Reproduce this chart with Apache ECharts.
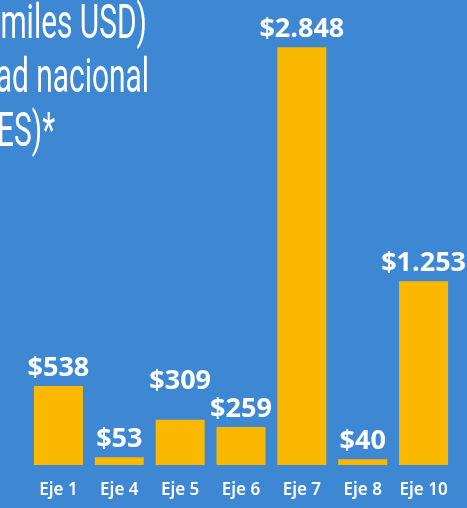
<!DOCTYPE html>
<html>
<head>
<meta charset="utf-8">
<script src="https://cdn.jsdelivr.net/npm/echarts@6/dist/echarts.min.js"></script>
<style>
  html, body { margin: 0; padding: 0; background: #3d87d3; }
  #chart { width: 467px; height: 508px; }
</style>
</head>
<body>
<div id="chart"></div>
<script>
// Inversión por eje (miles USD)
var categories = ['Eje 1', 'Eje 4', 'Eje 5', 'Eje 6', 'Eje 7', 'Eje 8', 'Eje 10'];
var values = [538, 53, 309, 259, 2848, 40, 1253];
var valueLabels = ['$538', '$53', '$309', '$259', '$2.848', '$40', '$1.253'];
var titleLines = ['miles USD)', 'ad nacional', 'ES)*'];

var BLUE = '#3d87d3';
var GOLD = '#fab800';

var chart = echarts.init(document.getElementById('chart'));

// the $309 label is lifted so it clears the neighbouring $259 label
var labelLift = { 2: 21 };

var seriesData = values.map(function (v, i) {
  var item = { value: v };
  if (labelLift[i]) {
    item.label = { offset: [0, -labelLift[i]] };
  }
  return item;
});

var titleTop = [26, 80, 134];
var titleRight = [147, 149, 55];

chart.setOption({
  backgroundColor: BLUE,
  animation: false,
  grid: { left: 28, right: 13, top: 25, bottom: 43 },
  xAxis: {
    type: 'category',
    data: categories,
    axisLine: { show: false },
    axisTick: { show: false },
    axisLabel: {
      interval: 0,
      color: '#ffffff',
      fontFamily: "'Noto Sans'",
      fontWeight: 600,
      fontSize: 17,
      margin: 17
    }
  },
  yAxis: {
    type: 'value',
    min: 0,
    max: 3000,
    show: false,
    splitLine: { show: false }
  },
  series: [{
    type: 'bar',
    data: seriesData,
    barWidth: 49,
    itemStyle: { color: GOLD },
    label: {
      show: true,
      position: 'top',
      distance: 4,
      color: '#ffffff',
      fontFamily: "'Open Sans', 'Noto Sans'",
      fontWeight: 'bold',
      fontSize: 27,
      formatter: function (p) { return valueLabels[p.dataIndex]; }
    }
  }],
  graphic: titleLines.map(function (t, i) {
    return {
      type: 'text',
      x: titleRight[i],
      y: titleTop[i],
      scaleX: 0.61,
      style: {
        text: t,
        fill: '#ffffff',
        font: '400 49px Roboto',
        align: 'right',
        verticalAlign: 'middle'
      }
    };
  })
});
</script>
</body>
</html>
